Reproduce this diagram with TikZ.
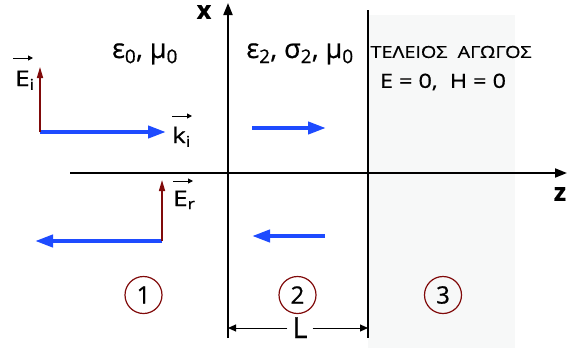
\documentclass[tikz,border=0pt]{standalone}
\usepackage{fontspec}
\setmainfont{Open Sans}[FakeBold=0.7]
\newfontfamily\wf[FakeStretch=1.2,FakeBold=0.7]{Open Sans}
\usetikzlibrary{arrows.meta,calc}
\definecolor{wblue}{RGB}{30,75,255}
\definecolor{dred}{RGB}{128,10,10}
\definecolor{cond}{RGB}{247,248,248}
\begin{document}
\begin{tikzpicture}[x=1pt,y=-1pt,
  axis/.style={line width=1.8pt,-{Triangle[length=12pt,width=9pt]}},
  bound/.style={line width=1.6pt},
  wave/.style={wblue,line width=4pt,-{Triangle[length=18pt,width=12pt]}},
  efield/.style={dred,line width=1.5pt,-{Triangle[length=11pt,width=6pt]}},
  vecar/.style={line width=1pt,-{Triangle[length=5pt,width=5pt]}},
  lbl/.style={inner sep=0pt,font=\wf\fontsize{21.5}{24}\selectfont},
  num/.style={circle,draw=dred,line width=1.2pt,minimum size=37pt,inner sep=0pt,font=\fontsize{24}{26}\selectfont},
  dim/.style={line width=1pt}
]
\useasboundingbox (0,0) rectangle (567,348);
\fill[cond] (368,15) rectangle (515,348);
% axes
\coordinate (zs) at (70,173);
\coordinate (ze) at (567,173);
\coordinate (xs) at (228,338);
\coordinate (xe) at (228,3);
\draw[axis] (zs) -- (ze);
\draw[axis] (xs) -- (xe);
\coordinate (bt) at (368,10);
\coordinate (bb) at (368,338);
\draw[bound] (bt) -- (bb);
\node[lbl,font=\fontsize{25}{26}\selectfont\bfseries] (xl) at (204,12) {x};
\node[lbl,font=\fontsize{25}{26}\selectfont\bfseries] (zl) at (560,194) {z};
% region labels
\node[lbl,font=\fontsize{27}{30}\selectfont,anchor=base] (m1) at (145,58) {ε\textsubscript{0}, μ\textsubscript{0}};
\node[lbl,font=\fontsize{27}{30}\selectfont,anchor=base] (m2) at (300,58) {ε\textsubscript{2}, σ\textsubscript{2}, μ\textsubscript{0}};
\node[lbl,font=\wf\fontsize{16.5}{18}\selectfont] (m3) at (451,52) {ΤΕΛΕΙΟΣ\ \ ΑΓΩΓΟΣ};
\node[lbl,font=\wf\fontsize{19.5}{22}\selectfont] (m3b) at (443,82) {E = 0,\ \ H = 0};
% incident
\coordinate (o1) at (40,132);
\coordinate (ei) at (40,67);
\coordinate (ki) at (166,132);
\draw[wave] (o1) -- (ki);
\draw[efield] (o1) -- (ei);
\node[lbl,anchor=base west] (Ei) at (15,86) {E\textsubscript{i}};
\draw[vecar] ($(Ei.base west)+(-2,-28)$) -- ($(Ei.base west)+(18,-28)$);
\node[lbl,anchor=base west] (Ki) at (172,143) {k\textsubscript{i}};
\draw[vecar] ($(Ki.base west)+(0,-27)$) -- ($(Ki.base west)+(20,-27)$);
% reflected
\coordinate (o2) at (162,241);
\coordinate (er) at (162,180);
\coordinate (kr) at (35,241);
\draw[wave] (o2) -- (kr);
\draw[efield] (o2) -- (er);
\node[lbl,anchor=base west] (Er) at (173,206) {E\textsubscript{r}};
\draw[vecar] ($(Er.base west)+(0,-25)$) -- ($(Er.base west)+(20,-25)$);
% region 2 waves
\coordinate (a1) at (252,128);
\coordinate (a2) at (326,128);
\draw[wave] (a1) -- (a2);
\coordinate (b1) at (325,236);
\coordinate (b2) at (252,236);
\draw[wave] (b1) -- (b2);
% numbers
\node[num] (n1) at (143.5,295) {1};
\node[num] (n2) at (297.5,295) {2};
\node[num] (n3) at (443,295) {3};
% L dimension
\node[lbl,font=\fontsize{29}{30}\selectfont,anchor=base] (Ll) at (300,338) {L};
\coordinate (l1) at (228,328);
\coordinate (l2) at (368,328);
\draw[dim,-{Triangle[length=8pt,width=7pt]}] (Ll.east |- l1) ++(5,0) -- (l2);
\draw[dim,-{Triangle[length=8pt,width=7pt]}] (Ll.west |- l1) ++(-5,0) -- (l1);
\end{tikzpicture}
\end{document}
